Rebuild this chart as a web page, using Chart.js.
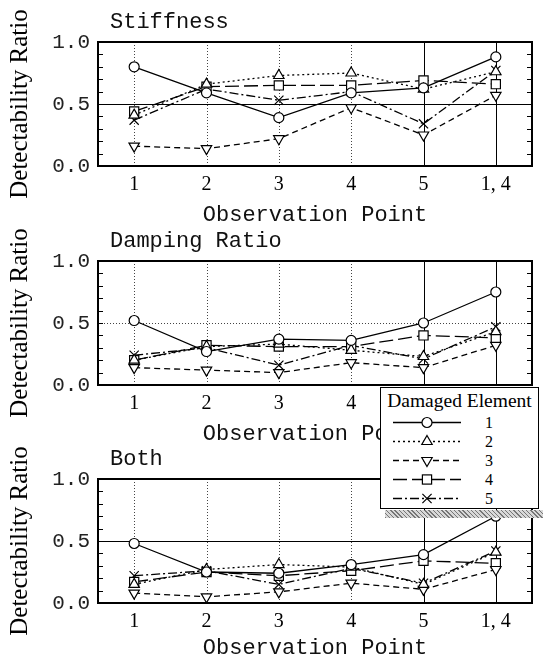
<!DOCTYPE html>
<html>
<head>
<meta charset="utf-8">
<script src="https://cdn.jsdelivr.net/npm/chart.js@4.4.1/dist/chart.umd.min.js"></script>
<style>
  html, body { margin: 0; padding: 0; background: #fff; }
  body { position: relative; width: 543px; height: 658px; overflow: hidden; }
  canvas { position: absolute; left: 0; }
  #legend {
    position: absolute; left: 380px; top: 387px; width: 159px; height: 122px;
    box-sizing: border-box; border: 1.5px solid #000; background: #fff; z-index: 5;
    font-family: "Liberation Serif", serif; color: #000;
  }
  #legend .head { font-size: 19.5px; height: 25px; line-height: 25px; text-align: center; white-space: nowrap; }
  #legend .row { position: relative; height: 19px; }
  #legend svg { position: absolute; left: 11px; top: 0; }
  #legend span { position: absolute; left: 104px; top: 0; font-size: 16px; line-height: 19px; }
  #shade {
    position: absolute; left: 385px; top: 510px; width: 158px; height: 8px; z-index: 5;
    background: repeating-linear-gradient(45deg, #777 0 1px, #d8d8d8 1px 3px);
  }
</style>
</head>
<body>
<canvas id="stiffness" width="543" height="240" style="top:0px"></canvas>
<canvas id="damping" width="543" height="240" style="top:219px"></canvas>
<canvas id="both" width="543" height="240" style="top:437px"></canvas>
<div id="legend"><div class="head">Damaged Element</div></div>
<div id="shade"></div>
<script>
const categories = ["1", "2", "3", "4", "5", "1, 4"];
const elements = ["1", "2", "3", "4", "5"];

// detectability ratio, stiffness change only
const stiff1 = [0.80, 0.59, 0.39, 0.59, 0.63, 0.88];
const stiff2 = [0.41, 0.66, 0.73, 0.75, 0.62, 0.76];
const stiff3 = [0.16, 0.14, 0.22, 0.47, 0.25, 0.57];
const stiff4 = [0.44, 0.64, 0.65, 0.65, 0.69, 0.66];
const stiff5 = [0.37, 0.62, 0.53, 0.60, 0.34, 0.77];

// damping ratio only
const damp1 = [0.52, 0.27, 0.37, 0.36, 0.50, 0.75];
const damp2 = [0.20, 0.31, 0.33, 0.28, 0.23, 0.43];
const damp3 = [0.14, 0.12, 0.10, 0.18, 0.14, 0.32];
const damp4 = [0.20, 0.32, 0.31, 0.31, 0.40, 0.38];
const damp5 = [0.24, 0.30, 0.16, 0.32, 0.21, 0.47];

// stiffness and damping together
const both1 = [0.48, 0.25, 0.24, 0.31, 0.39, 0.70];
const both2 = [0.15, 0.27, 0.31, 0.29, 0.15, 0.41];
const both3 = [0.08, 0.05, 0.09, 0.16, 0.11, 0.27];
const both4 = [0.17, 0.25, 0.22, 0.26, 0.34, 0.32];
const both5 = [0.22, 0.26, 0.15, 0.28, 0.16, 0.42];

const lineStyles = [
  { dash: [], point: "circle", radius: 5, rotation: 0 },
  { dash: [2, 3], point: "triangle", radius: 6, rotation: 0 },
  { dash: [6, 4], point: "triangle", radius: 6, rotation: 180 },
  { dash: [14, 5], point: "rect", radius: 6.5, rotation: 0 },
  { dash: [9, 3, 2, 3], point: "crossRot", radius: 6.5, rotation: 0 },
];

Chart.defaults.font.family = "'Liberation Mono', monospace";
Chart.defaults.color = "#111";

// grid, inner ticks, frame and the panel heading
const panelDecor = {
  id: "panelDecor",
  beforeDatasetsDraw(chart, args, opts) {
    const { ctx, chartArea: a, scales: { x, y } } = chart;
    ctx.save();
    ctx.lineWidth = 1;
    categories.forEach((c, i) => {
      const px = Math.round(x.getPixelForValue(i)) + 0.5;
      ctx.strokeStyle = i < 4 ? "#444" : "#000";
      ctx.setLineDash(i < 4 ? [1, 2] : []);
      ctx.beginPath();
      ctx.moveTo(px, a.top);
      ctx.lineTo(px, a.bottom);
      ctx.stroke();
    });
    const py = Math.round(y.getPixelForValue(0.5)) + 0.5;
    ctx.strokeStyle = opts.dottedHalf ? "#444" : "#000";
    ctx.setLineDash(opts.dottedHalf ? [1, 2] : []);
    ctx.beginPath();
    ctx.moveTo(a.left, py);
    ctx.lineTo(a.right, py);
    ctx.stroke();

    ctx.setLineDash([]);
    ctx.strokeStyle = "#000";
    for (let k = 1; k < 10; k++) {
      const ty = Math.round(y.getPixelForValue(k / 10)) + 0.5;
      ctx.beginPath();
      ctx.moveTo(a.left, ty);
      ctx.lineTo(a.left + 5, ty);
      ctx.moveTo(a.right - 5, ty);
      ctx.lineTo(a.right, ty);
      ctx.stroke();
    }
    ctx.lineWidth = 2;
    ctx.strokeRect(a.left, a.top, a.right - a.left, a.bottom - a.top);
    ctx.restore();
  },
  afterDraw(chart, args, opts) {
    const { ctx, chartArea: a } = chart;
    ctx.save();
    ctx.font = "22px 'Liberation Mono', monospace";
    ctx.fillStyle = "#111";
    ctx.textBaseline = "middle";
    ctx.fillText(opts.title, a.left + 12, a.top - 20);
    ctx.restore();
  },
};

function makePanel(id, title, series, dottedHalf, bottomPad) {
  return new Chart(document.getElementById(id), {
    type: "line",
    data: {
      labels: categories,
      datasets: series.map((data, i) => ({
        label: elements[i],
        data: data,
        borderColor: "#000",
        borderWidth: 1.3,
        borderDash: lineStyles[i].dash,
        pointStyle: lineStyles[i].point,
        pointRadius: lineStyles[i].radius,
        pointRotation: lineStyles[i].rotation,
        pointBackgroundColor: "#fff",
        pointBorderColor: "#000",
        pointBorderWidth: 1.2,
        fill: false,
        tension: 0,
      })),
    },
    options: {
      responsive: false,
      animation: false,
      layout: { padding: { top: 42, right: 11, bottom: bottomPad, left: 0 } },
      scales: {
        x: {
          type: "category",
          offset: true,
          grid: { display: false, drawTicks: false },
          border: { display: false },
          ticks: {
            font: { family: "'Liberation Serif', serif", size: 20 },
            color: "#000",
            padding: 7,
            maxRotation: 0,
            autoSkip: false,
          },
          title: {
            display: true,
            text: "Observation Point",
            font: { size: 22 },
            color: "#111",
            padding: { top: 0, bottom: 0 },
          },
          afterFit: (s) => { s.height = 240 - bottomPad - 166; },
        },
        y: {
          min: 0,
          max: 1,
          grid: { display: false, drawTicks: false },
          border: { display: false },
          ticks: {
            stepSize: 0.5,
            font: { size: 21 },
            color: "#222",
            padding: 8,
            callback: (v) => v.toFixed(1),
          },
          title: {
            display: true,
            text: "Detectability Ratio",
            font: { family: "'Liberation Serif', serif", size: 25 },
            color: "#000",
            padding: { top: 5, bottom: 0 },
          },
          afterFit: (s) => { s.width = 98; },
        },
      },
      plugins: {
        legend: { display: false },
        tooltip: { enabled: false },
        panelDecor: { title: title, dottedHalf: dottedHalf },
      },
    },
    plugins: [panelDecor],
  });
}

makePanel("stiffness", "Stiffness", [stiff1, stiff2, stiff3, stiff4, stiff5], false, 12);
makePanel("damping", "Damping Ratio", [damp1, damp2, damp3, damp4, damp5], true, 12);
makePanel("both", "Both", [both1, both2, both3, both4, both5], false, 16);

// legend rows: line sample with marker, then the element number
const legend = document.getElementById("legend");
const svgNS = "http://www.w3.org/2000/svg";
lineStyles.forEach((st, i) => {
  const row = document.createElement("div");
  row.className = "row";
  const svg = document.createElementNS(svgNS, "svg");
  svg.setAttribute("width", "70");
  svg.setAttribute("height", "19");
  const line = document.createElementNS(svgNS, "line");
  line.setAttribute("x1", "1");
  line.setAttribute("x2", "69");
  line.setAttribute("y1", "9.5");
  line.setAttribute("y2", "9.5");
  line.setAttribute("stroke", "#000");
  line.setAttribute("stroke-width", "1.3");
  if (st.dash.length) line.setAttribute("stroke-dasharray", st.dash.join(" "));
  svg.appendChild(line);
  const cx = 35, cy = 9.5;
  let mark;
  if (st.point === "circle") {
    mark = document.createElementNS(svgNS, "circle");
    mark.setAttribute("cx", cx);
    mark.setAttribute("cy", cy);
    mark.setAttribute("r", st.radius);
  } else if (st.point === "triangle") {
    const r = st.radius, s = st.rotation ? -1 : 1;
    mark = document.createElementNS(svgNS, "polygon");
    mark.setAttribute("points", [
      [cx, cy - s * r],
      [cx + r * 0.866, cy + s * r * 0.5],
      [cx - r * 0.866, cy + s * r * 0.5],
    ].map((p) => p.join(",")).join(" "));
  } else if (st.point === "rect") {
    const h = st.radius * Math.SQRT1_2;
    mark = document.createElementNS(svgNS, "rect");
    mark.setAttribute("x", cx - h);
    mark.setAttribute("y", cy - h);
    mark.setAttribute("width", 2 * h);
    mark.setAttribute("height", 2 * h);
  } else {
    const h = st.radius * Math.SQRT1_2;
    mark = document.createElementNS(svgNS, "path");
    mark.setAttribute("d", `M${cx - h},${cy - h}L${cx + h},${cy + h}M${cx - h},${cy + h}L${cx + h},${cy - h}`);
  }
  mark.setAttribute("fill", "#fff");
  mark.setAttribute("stroke", "#000");
  mark.setAttribute("stroke-width", "1.2");
  svg.appendChild(mark);
  row.appendChild(svg);
  const num = document.createElement("span");
  num.textContent = elements[i];
  row.appendChild(num);
  legend.appendChild(row);
});
</script>
</body>
</html>
